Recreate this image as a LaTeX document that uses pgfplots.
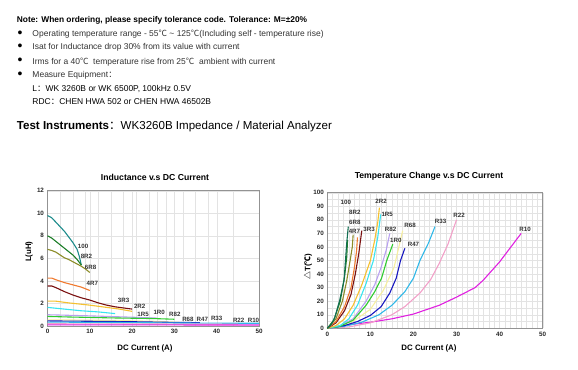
\documentclass[border=0pt]{standalone}
\usepackage{fontspec}
\setmainfont{Liberation Sans}
\newfontfamily\cjk{Noto Sans CJK SC}
\usepackage{pgfplots}
\pgfplotsset{compat=1.18}
\definecolor{cA}{HTML}{1E8C8C}
\definecolor{cB}{HTML}{1E7F2A}
\definecolor{cC}{HTML}{8C8C28}
\definecolor{cD}{HTML}{F07A30}
\definecolor{cE}{HTML}{7A1010}
\definecolor{cF}{HTML}{F5C030}
\definecolor{cG}{HTML}{38E4F0}
\definecolor{cH}{HTML}{B8A0F0}
\definecolor{cI}{HTML}{30CC30}
\definecolor{cJ}{HTML}{F6EFA0}
\definecolor{cK}{HTML}{1818C0}
\definecolor{cL}{HTML}{30B8E8}
\definecolor{cM}{HTML}{F2A0C8}
\definecolor{cN}{HTML}{E020E0}
\definecolor{cT}{HTML}{126E52}
\definecolor{txt}{HTML}{333333}
\pgfplotsset{mystyle/.style={scale only axis, axis line style={draw=gray!85, line width=0.8bp},
  grid=both, major grid style={gray!22, line width=0.4bp}, minor grid style={gray!22, line width=0.4bp},
  tick style={draw=none}, ticklabel style={font=\fontsize{6.3}{7}\selectfont\bfseries, text=black!85},
  /pgf/number format/assume math mode=true, clip=false,
  every axis plot/.append style={line width=1.1bp, mark=none}}}
\tikzset{lbl/.style={font=\fontsize{6.2}{7}\selectfont\bfseries, text=black!80}}
\begin{document}
\begin{tikzpicture}[x=1bp,y=1bp]
\useasboundingbox (0,0) rectangle (578,369);
% header text
\node[anchor=west, inner sep=0, font=\fontsize{8.4}{9}\selectfont\bfseries] at (16.7,349) {Note: When ordering, please specify tolerance code. Tolerance: M=±20\%};
\foreach \yy in {334.7,321.3,307.3,293.7} {\node[inner sep=0, font=\fontsize{14}{14}\selectfont] at (20,\yy) {\textbullet};}
\node[anchor=west, inner sep=0, text=txt, font=\fontsize{8.5}{9}\selectfont] at (32.3,334.7) {Operating temperature range - 55{\cjk ℃} \textasciitilde{} 125{\cjk ℃}(Including self - temperature rise)};
\node[anchor=west, inner sep=0, text=txt, font=\fontsize{8.5}{9}\selectfont] at (32.3,321.3) {Isat for Inductance drop 30\% from its value with current};
\node[anchor=west, inner sep=0, text=txt, font=\fontsize{8.5}{9}\selectfont] at (32.3,307.3) {Irms for a 40{\cjk ℃}\ \ temperature rise from 25{\cjk ℃}\ \ ambient with current};
\node[anchor=west, inner sep=0, text=txt, font=\fontsize{8.5}{9}\selectfont] at (32.3,293.7) {Measure Equipment{\cjk ：}};
\node[anchor=west, inner sep=0, text=black, font=\fontsize{8.5}{9}\selectfont] at (32.3,280) {L{\cjk ：}WK 3260B or WK 6500P, 100kHz 0.5V};
\node[anchor=west, inner sep=0, text=black, font=\fontsize{8.5}{9}\selectfont] at (32.3,267.3) {RDC{\cjk ：}CHEN HWA 502 or CHEN HWA 46502B};
\node[anchor=west, inner sep=0, text=black, font=\fontsize{11.6}{12}\selectfont] at (16.7,242.3) {\textbf{Test Instruments}{\cjk ：}WK3260B Impedance / Material Analyzer};
% titles and labels
\node[font=\fontsize{8.7}{9}\selectfont\bfseries] at (155,191.3) {Inductance v.s DC Current};
\node[font=\fontsize{8.7}{9}\selectfont\bfseries] at (429,192.3) {Temperature Change v.s DC Current};
\node[font=\fontsize{7.9}{8}\selectfont\bfseries] at (145,21) {DC Current (A)};
\node[font=\fontsize{7.9}{8}\selectfont\bfseries] at (429,20.7) {DC Current (A)};
\node[rotate=90, font=\fontsize{7.9}{8}\selectfont\bfseries] at (29,117.3) {L(uH)};
\node[rotate=90, font=\fontsize{7.9}{8}\selectfont\bfseries] at (308,102.3) {{\cjk △}T({\cjk ℃})};
% left chart
\begin{axis}[mystyle, at={(47.5bp,43bp)}, anchor=south west, width=211.5bp, height=135.3bp,
  xmin=0, xmax=50, ymin=0, ymax=12, xtick={0,10,...,50}, ytick={0,2,...,12},
  minor xtick={3,6,9,12,15,18,21,24,26,28,32,35,38,44}]
\addplot[cA] coordinates {(0,9.8)(1,9.6)(2,9.2)(3,8.8)(4,8.4)(5,7.9)(6,7.4)(7,6.8)(7.5,6.2)(8,5.4)};
\addplot[cB] coordinates {(0,8.0)(1,7.8)(2,7.5)(3,7.2)(4,6.9)(5,6.6)(6,6.3)(7,5.9)(8,5.4)};
\addplot[cC] coordinates {(0,6.8)(1,6.7)(2,6.55)(3,6.3)(4,6.05)(5,5.9)(6,5.7)(7,5.5)(8,5.3)(9,5.05)(10,4.75)};
\addplot[cD] coordinates {(0,4.25)(1,4.25)(2,4.1)(4,3.85)(6,3.65)(8,3.45)(10,3.15)};
\addplot[cE] coordinates {(0,3.55)(1,3.55)(2,3.4)(4,3.05)(6,2.75)(8,2.5)(10,2.3)(12,2.05)(14,1.85)(16,1.7)(18,1.6)(20,1.5)};
\addplot[cF] coordinates {(0,2.2)(2,2.2)(5,2.05)(10,1.85)(14,1.65)(17,1.5)(20,1.3)};
\addplot[cG] coordinates {(0,1.65)(4,1.5)(8,1.35)(12,1.25)(16,1.1)};
\addplot[cH] coordinates {(0,1.0)(10,0.9)(20,0.78)(26,0.7)};
\addplot[cI] coordinates {(0,0.85)(5,0.8)(15,0.72)(25,0.66)(30,0.6)};
\addplot[cJ] coordinates {(0,0.55)(15,0.5)(25,0.42)(33,0.3)};
\addplot[cK] coordinates {(0,0.45)(10,0.42)(20,0.38)(30,0.32)(36,0.3)};
\addplot[cL] coordinates {(0,0.35)(20,0.3)(30,0.27)(40,0.25)(50,0.24)};
\addplot[cM] coordinates {(0,0.2)(20,0.18)(45,0.16)};
\addplot[cN] coordinates {(0,0.1)(50,0.09)};
\node[lbl] at (axis cs:8.4,7.1) {100};
\node[lbl] at (axis cs:9.2,6.15) {8R2};
\node[lbl] at (axis cs:10.2,5.2) {6R8};
\node[lbl] at (axis cs:10.6,3.8) {4R7};
\node[lbl] at (axis cs:18,2.3) {3R3};
\node[lbl] at (axis cs:21.8,1.72) {2R2};
\node[lbl] at (axis cs:22.6,1.07) {1R5};
\node[lbl] at (axis cs:26.4,1.18) {1R0};
\node[lbl] at (axis cs:30.1,1.07) {R82};
\node[lbl] at (axis cs:33.2,0.62) {R68};
\node[lbl] at (axis cs:36.6,0.6) {R47};
\node[lbl] at (axis cs:40,0.68) {R33};
\node[lbl] at (axis cs:45.2,0.5) {R22};
\node[lbl] at (axis cs:48.7,0.5) {R10};
\end{axis}
% right chart
\begin{axis}[mystyle, at={(327.3bp,40.7bp)}, anchor=south west, width=215.4bp, height=135.6bp,
  xmin=0, xmax=50, ymin=0, ymax=100, xtick={0,10,...,50}, ytick={0,10,...,100},
  minor x tick num=7, minor y tick num=1]
\addplot[cN] coordinates {(0,0)(3,1.5)(6,3)(10,4.5)(15,7)(20,10.5)(26,17)(30,23)(34.3,30)(36.2,35.5)(40,49)(45,70)};
\addplot[cM] coordinates {(0,0)(5,1)(10,4)(15,10)(18,16)(21.5,26)(24,36)(26,48)(28,62)(30,80)};
\addplot[cL] coordinates {(0,0)(4,1.5)(8,4.5)(12,10)(15,17)(18,27)(20,37)(21.5,50)(23.5,63)(25,75)};
\addplot[cJ] coordinates {(0,0)(5,3)(10,14)(13,28)(15.5,45)(17.5,72)};
\addplot[cK] coordinates {(0,0)(4,2)(7,5)(10,9.5)(12.5,16)(14.5,26)(16,37)(17,50)(18,59)};
\addplot[cH] coordinates {(0,0)(3,2)(6,7)(9,20)(11,32)(12.5,45)(13.7,58)(14.5,70)};
\addplot[cI] coordinates {(0,0)(3,1.5)(6,6)(9,17)(11,27)(12.6,37)(13.8,50)(15.2,62)};
\addplot[cG] coordinates {(0,0)(3,2)(5,7)(7,17)(9,33)(10.7,50)(11.7,67)(12.4,84)};
\addplot[cF] coordinates {(0,0)(2,2)(4,7)(6,17)(8,32)(10,50)(11,65)(11.7,78)(12.1,89)};
\addplot[cE] coordinates {(0,0)(2,4)(4,13)(5.5,25)(6.5,40)(7.3,55)(8,72)};
\addplot[cD] coordinates {(0,0)(2,5)(4,16)(5.5,30)(6.3,45)(6.8,57)(7,67)};
\addplot[cC] coordinates {(0,0)(2,7)(3.5,20)(4.5,35)(5.3,50)(5.8,60)(6,69)};
\addplot[cB] coordinates {(0,0)(1.5,6)(3,20)(4,38)(4.5,52)(4.7,65)};
\addplot[cT] coordinates {(0,0)(1,3)(1.8,8.6)(2.9,21)(3.9,35.6)(4.5,62.6)(4.87,75)};
\node[lbl] at (axis cs:4.3,92.9) {100};
\node[lbl] at (axis cs:6.4,85.3) {8R2};
\node[lbl] at (axis cs:6.4,78) {6R8};
\node[lbl] at (axis cs:6.3,71.7) {4R7};
\node[lbl] at (axis cs:9.7,73) {3R3};
\node[lbl] at (axis cs:12.5,93.9) {2R2};
\node[lbl] at (axis cs:13.9,84) {1R5};
\node[lbl] at (axis cs:14.7,73.2) {R82};
\node[lbl] at (axis cs:15.9,65) {1R0};
\node[lbl] at (axis cs:19.2,76) {R68};
\node[lbl] at (axis cs:20,62) {R47};
\node[lbl] at (axis cs:26.3,78.6) {R33};
\node[lbl] at (axis cs:30.6,83.5) {R22};
\node[lbl] at (axis cs:45.9,73) {R10};
\end{axis}
\end{tikzpicture}
\end{document}
